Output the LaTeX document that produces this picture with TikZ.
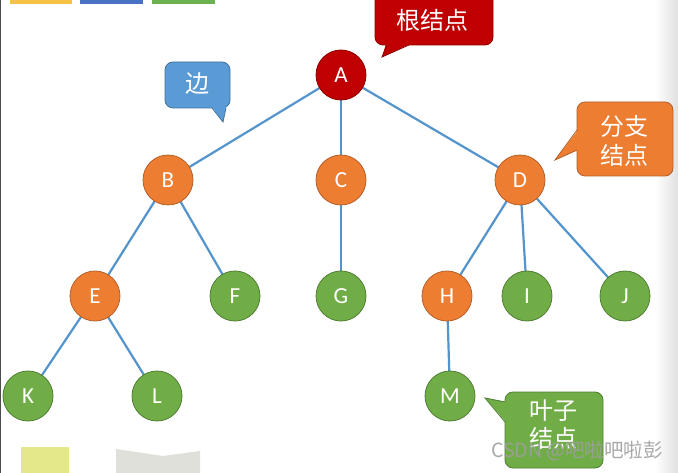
\documentclass[tikz,border=0pt]{standalone}
\usepackage{fontspec}
\setmainfont{Carlito}
\newfontfamily\cjk{Noto Sans CJK SC}
\usetikzlibrary{shadings}
\definecolor{cred}{HTML}{C00000}
\definecolor{credb}{HTML}{8E0000}
\definecolor{corg}{HTML}{ED7D31}
\definecolor{corgb}{HTML}{B5602A}
\definecolor{cgrn}{HTML}{70AD47}
\definecolor{cgrnb}{HTML}{4F7F33}
\definecolor{cblu}{HTML}{5B9BD5}
\definecolor{cblub}{HTML}{41719C}
\definecolor{cedge}{HTML}{5494CC}
\tikzset{
  tnode/.style={circle,minimum size=50pt,inner sep=0pt,line width=0.8pt,text=white,font=\fontsize{23}{23}\selectfont},
  rednode/.style={tnode,fill=cred,draw=credb},
  orgnode/.style={tnode,fill=corg,draw=corgb},
  grnnode/.style={tnode,fill=cgrn,draw=cgrnb},
  edge/.style={draw=cedge,line width=2.2pt},
  ctext/.style={text=white,font=\cjk\fontsize{24}{24}\selectfont,inner sep=0pt},
}
\begin{document}
\begin{tikzpicture}[x=1pt,y=-1pt]
\useasboundingbox (0,0) rectangle (678,473);
\fill[white] (0,0) rectangle (678,473);
\shade[left color=white,right color=black!12] (655,0) rectangle (678,473);
\draw[black!70,line width=1pt] (0.5,0) -- (0.5,473);
% top bars
\fill[fill={rgb,255:red,245;green,194;blue,66}] (10,0) rectangle (72,4);
\fill[fill={rgb,255:red,74;green,114;blue,196}] (80,0) rectangle (143,4);
\fill[fill={rgb,255:red,107;green,177;blue,79}] (152,0) rectangle (215,4);
% bottom shapes
\fill[fill={rgb,255:red,229;green,232;blue,138}] (21,447) rectangle (69,473);
\fill[fill={rgb,255:red,224;green,224;blue,218}] (116,449) -- (163,456) -- (200,451) -- (200,473) -- (116,473) -- cycle;

% node positions
\coordinate (pA) at (341,75);
\coordinate (pB) at (168,180);
\coordinate (pC) at (341,180);
\coordinate (pD) at (520,180);
\coordinate (pE) at (95,296);
\coordinate (pF) at (235,296);
\coordinate (pG) at (341,296);
\coordinate (pH) at (447,296);
\coordinate (pI) at (527,296);
\coordinate (pJ) at (625,296);
\coordinate (pK) at (28,396);
\coordinate (pL) at (157,396);
\coordinate (pM) at (450,396);

% edges (centre to centre, nodes drawn on top)
\foreach \a/\b in {A/B,A/C,A/D,B/E,B/F,C/G,D/H,D/I,D/J,E/K,E/L,H/M}
  \path[edge] (p\a) -- (p\b);

\node[rednode] (A) at (pA) {A};
\node[orgnode] (B) at (pB) {B};
\node[orgnode] (C) at (pC) {C};
\node[orgnode] (D) at (pD) {D};
\node[orgnode] (E) at (pE) {E};
\node[grnnode] (F) at (pF) {F};
\node[grnnode] (G) at (pG) {G};
\node[orgnode] (H) at (pH) {H};
\node[grnnode] (I) at (pI) {I};
\node[grnnode] (J) at (pJ) {J};
\node[grnnode] (K) at (pK) {K};
\node[grnnode] (L) at (pL) {L};
\node[grnnode] (M) at (pM) {M};

% callout: root
\draw[fill=cred,draw=credb,line width=0.8pt,rounded corners=8pt] (375,-8) rectangle (493,45);
\fill[cred] (386,44) -- (382,57) -- (410,44) -- cycle;
\draw[credb,line width=0.8pt] (387,45) -- (382,57) -- (409,45);
\node[ctext] (rt) at (432,20) {根结点};

% callout: edge
\draw[fill=cblu,draw=cblub,line width=0.8pt,rounded corners=8pt] (165,62) rectangle (230,108);
\fill[cblu] (212,107) -- (223,122) -- (226,107) -- cycle;
\draw[cblub,line width=0.8pt] (212,108) -- (223,122) -- (226,108);
\node[ctext] (et) at (197,84) {边};

% callout: branch
\draw[fill=corg,draw=corgb,line width=0.8pt,rounded corners=8pt] (577,102) rectangle (673,176);
\fill[corg] (578,130) -- (555,160) -- (578,150) -- cycle;
\draw[corgb,line width=0.8pt] (577,130) -- (555,160) -- (577,150);
\node[ctext] (bt1) at (624,126) {分支};
\node[ctext] (bt2) at (624,155) {结点};

% callout: leaf
\draw[fill=cgrn,draw=cgrnb,line width=0.8pt,rounded corners=8pt] (505,392) rectangle (603,468);
\fill[cgrn] (506,402) -- (485,398) -- (506,422) -- cycle;
\draw[cgrnb,line width=0.8pt] (505,402) -- (485,398) -- (505,422);
\node[ctext] (lt1) at (553,411) {叶子};
\node[ctext] (lt2) at (553,438) {结点};

% watermark
\node[text=black!38,opacity=0.9,font=\cjk\fontsize{19.5}{19.5}\selectfont,inner sep=0pt] (wm) at (577,451) {CSDN @吧啦吧啦彭};
\end{tikzpicture}
\end{document}
